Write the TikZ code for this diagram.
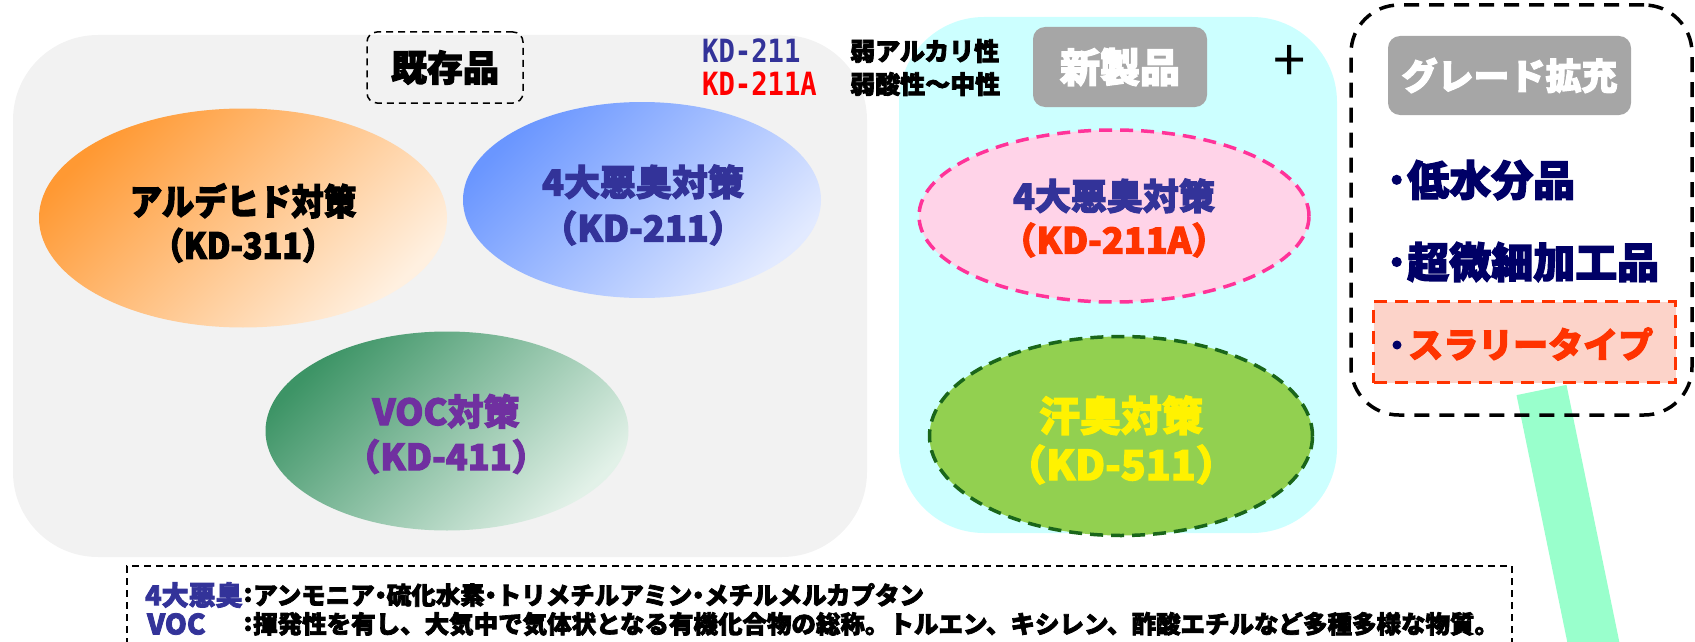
\documentclass[tikz,border=0pt]{standalone}
\usepackage{fontspec}
\setmainfont{Noto Sans CJK JP}[BoldFeatures={FakeBold=3}]
\newfontfamily\condjp{Noto Sans CJK JP}[FakeStretch=0.9, BoldFeatures={FakeBold=3}]
\newfontfamily\kdmono{DejaVu Sans Mono}[FakeStretch=0.85]
\usetikzlibrary{shapes.geometric}
\definecolor{grayfill}{HTML}{F2F2F2}
\definecolor{cyanfill}{HTML}{CCFFFF}
\definecolor{btngray}{HTML}{A6A6A6}
\definecolor{navyA}{HTML}{333399}
\definecolor{navyB}{HTML}{000066}
\definecolor{purp}{HTML}{7030A0}
\definecolor{redor}{HTML}{FF3300}
\definecolor{pinkfill}{HTML}{FFD3E8}
\definecolor{pinkline}{HTML}{FF3399}
\definecolor{leaf}{HTML}{92D050}
\definecolor{dkgreen}{HTML}{1A661A}
\definecolor{mint}{HTML}{99FFCC}
\definecolor{slurry}{HTML}{FCD3C9}
\definecolor{orD}{HTML}{FF9933}
\definecolor{orL}{HTML}{FFF0E0}
\definecolor{blD}{HTML}{6A96FF}
\definecolor{blL}{HTML}{E2EAFF}
\definecolor{grD}{HTML}{3D9466}
\definecolor{grL}{HTML}{E2F1E8}
\definecolor{kdred}{HTML}{FF0000}
\newcommand{\fsz}[2]{\fontsize{#1}{#2}\selectfont\bfseries}
\newcommand{\nd}{\makebox[12pt]{・}}
\begin{document}
\begin{tikzpicture}[x=1pt,y=-1pt,
  oval/.style={ellipse, inner sep=0pt},
  lbl/.style={align=center, inner sep=0pt},
  tagbox/.style={rounded corners=12pt, fill=btngray, text=white, inner sep=0pt},
  area/.style={rounded corners=85pt, inner sep=0pt},
  thickdash/.style={line width=3.5pt, dash pattern=on 13pt off 8pt},
  thindash/.style={draw=black, line width=1.5pt, dash pattern=on 7pt off 5pt},
  txt/.style={inner sep=0pt, anchor=west}
]
\useasboundingbox (0,0) rectangle (1695,642);

% areas
\node[area, fill=grayfill, minimum width=854pt, minimum height=522pt] (old) at (440,296) {};
\node[area, fill=cyanfill, minimum width=438pt, minimum height=516pt] (new) at (1118,275) {};

% mint bar and note box (clipped at page)
\begin{scope}
\clip (0,0) rectangle (1695,642);
\coordinate (bartop) at (1541.5,390);
\coordinate (barend) at (1597,660);
\draw[mint, line width=51pt] (bartop) -- (barend);
\node[thindash, minimum width=1385pt, minimum height=134pt, inner sep=0pt] (note) at (819.5,633) {};
\end{scope}

% grade frame
\node[draw=black, line width=3.5pt, dash pattern=on 15pt off 10pt, rounded corners=48pt, minimum width=341pt, minimum height=410pt, inner sep=0pt] (grade) at (1521.5,210) {};

% existing product label
\node[thindash, rounded corners=10pt, minimum width=156pt, minimum height=71pt, inner sep=0pt, font=\fsz{36}{40}] (exist) at (445,67.5) {既存品};

% legend
\node[txt, text=navyA, font=\kdmono\bfseries\fontsize{32}{34}\selectfont] (k1) at (702,51) {KD-211};
\node[txt, text=kdred, font=\kdmono\bfseries\fontsize{32}{34}\selectfont] (k2) at (702,84) {KD-211A};
\node[txt, font=\fsz{25}{30}] (p1) at (850,51) {弱アルカリ性};
\node[txt, font=\fsz{25}{30}] (p2) at (850,84) {弱酸性～中性};

% tags
\node[tagbox, minimum width=174pt, minimum height=80pt, font=\fsz{40}{44}] (newtag) at (1120,67) {新製品};
\node[font=\fontsize{58}{60}\selectfont] (plus) at (1290,63) {+};
\node[tagbox, minimum width=243pt, minimum height=79pt, font=\fsz{36}{40}] (gradetag) at (1509.5,75.5) {グレード拡充};

% existing ellipses
\node[oval, minimum width=408pt, minimum height=219pt, top color=orD, bottom color=orL, shading angle=45] (e311) at (243,218) {};
\node[lbl, font=\condjp\fsz{36}{44}] (t311) at (243,223) {アルデヒド対策\\（KD-311）};

\node[oval, minimum width=358pt, minimum height=196pt, top color=blD, bottom color=blL, shading angle=45] (e211) at (642,200) {};
\node[lbl, text=navyA, font=\fsz{36}{46}] (t211) at (643,205) {4大悪臭対策\\（KD-211）};

\node[oval, minimum width=363pt, minimum height=199pt, top color=grD, bottom color=grL, shading angle=45] (e411) at (447,431) {};
\node[lbl, text=purp, font=\fsz{36}{45}] (t411) at (446,434) {VOC対策\\（KD-411）};

% new ellipses
\node[oval, fill=pinkfill, draw=pinkline, thickdash, minimum width=390pt, minimum height=172pt] (e211a) at (1114,216) {};
\node[lbl, font=\fsz{36}{44}] (t211a) at (1114,218) {\textcolor{navyA}{4大悪臭対策}\\\textcolor{redor}{（KD-211A）}};

\node[oval, fill=leaf, draw=dkgreen, thickdash, minimum width=383pt, minimum height=199pt] (e511) at (1121,436) {};
\node[lbl, text=yellow, font=\fsz{41}{49}] (t511) at (1121,440) {汗臭対策\\（KD-511）};

% grade items
\node[txt, text=navyB, font=\fsz{42}{44}] (g1) at (1386,180) {･低水分品};
\node[txt, text=navyB, font=\fsz{42}{44}] (g2) at (1386,262) {･超微細加工品};
\node[fill=slurry, draw=redor, thickdash, minimum width=302pt, minimum height=81pt, inner sep=0pt] (slbox) at (1524.5,342) {};
\node[circle, fill=navyB, inner sep=0pt, minimum size=9pt] (sldot) at (1397,345) {};
\node[txt, text=redor, font=\fsz{35}{38}] (g3) at (1408,344) {スラリータイプ};

% notes
\node[txt, text=navyA, font=\fsz{27}{30}] (n1l) at (145,595) {4大悪臭};
\node[inner sep=0pt, font=\fsz{24}{28}] (n1c) at (248,595) {:};
\node[txt, font=\fsz{24.5}{28}] (n1t) at (253,595) {アンモニア\nd 硫化水素\nd トリメチルアミン\nd メチルメルカプタン};
\node[txt, text=navyA, font=\fsz{28}{30}] (n2l) at (147,624) {VOC};
\node[inner sep=0pt, font=\fsz{24}{28}] (n2c) at (248,624) {:};
\node[txt, font=\fsz{24.5}{28}] (n2t) at (253,624) {揮発性を有し、大気中で気体状となる有機化合物の総称。トルエン、キシレン、酢酸エチルなど多種多様な物質。};
\end{tikzpicture}
\end{document}
